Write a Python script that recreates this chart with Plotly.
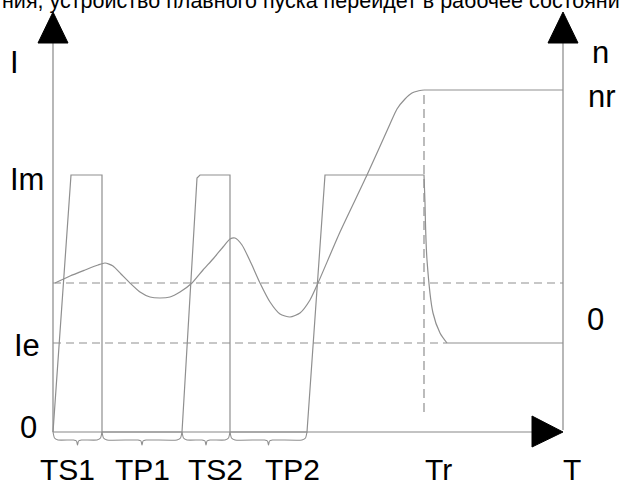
import plotly.graph_objects as go

# ---- schematic data (time axis units, value units; origin at axes crossing) ----
IM = 257          # current limit level Im
IE = 89           # rated current level Ie
N0 = 149          # speed reference (dashed) level
NR = 342          # rated speed nr
TR = 371          # time Tr
T_END = 510       # right axis position

phase_edges = [0, 49, 129, 177, 254]          # TS1 | TP1 | TS2 | TP2 boundaries
phase_labels = ["TS1", "TP1", "TS2", "TP2"]
phase_label_x = [14, 89, 162, 239]

# current waveform (linear parts)
cur_t = [0, 18, 49, 49, 129, 144, 147, 177, 177, 254, 272, 371, 372]
cur_i = [0, IM, IM, 0, 0, 254, IM, IM, 0, 0, IM, IM, 229]
# current decay after Tr (smooth part)
dec_t = [372, 374, 380, 387, 394]
dec_i = [229, 172, 119, 99, IE]

# speed curve
spd_t = [2, 17, 32, 45, 52, 60, 68, 77, 87, 97, 107, 117, 127, 139, 150, 160, 170, 177,
         182, 189, 198, 207, 217, 227, 237, 247, 257, 265, 287, 314, 337, 344, 352, 359, 365, 371]
spd_n = [149, 156, 162, 167, 169, 166, 158, 149, 140, 135, 134, 135, 140, 149, 162, 173, 185, 193,
         194, 187, 169, 149, 130, 118, 115, 119, 132, 149, 200, 257, 308, 323, 333, 339, 341, NR]

GRAY = "#8f8f8f"
LW = 1.2

fig = go.Figure()

def line(x, y, dash=None, shape="linear", color=GRAY, width=LW, smoothing=None):
    ln = dict(color=color, width=width, shape=shape)
    if dash:
        ln["dash"] = dash
    if smoothing is not None:
        ln["smoothing"] = smoothing
    fig.add_trace(go.Scatter(x=x, y=y, mode="lines", line=ln,
                             hoverinfo="skip", showlegend=False))

def tri(x, y):
    fig.add_trace(go.Scatter(x=x, y=y, mode="lines", fill="toself",
                             fillcolor="black", line=dict(color="black", width=1),
                             hoverinfo="skip", showlegend=False))

# axes
line([0, 0], [0, 390], color="#888888")
line([T_END, T_END], [2, 390], color="#888888")
line([0, 480], [0, 0], color="#888888")
tri([-15, 0, 15, -15], [389, 420, 389, 389])
tri([T_END - 15, T_END, T_END + 15, T_END - 15], [389, 420, 389, 389])
tri([479, T_END, 479, 479], [16, 0, -15, 16])

# dashed reference lines
line([0, T_END], [N0, N0], dash="8px,5px")
line([0, dec_t[-1]], [IE, IE], dash="8px,5px")
line([TR, TR], [20, NR], dash="9px,5px")

# current
line(cur_t, cur_i)
line(dec_t, dec_i, shape="spline", smoothing=0.8)
line([dec_t[-1], T_END], [IE, IE])

# speed
line(spd_t, spd_n, shape="spline", smoothing=0.6)
line([TR, T_END], [NR, NR])

# braces under time axis
for a, b in zip(phase_edges[:-1], phase_edges[1:]):
    m = (a + b) / 2
    bx = [a, a + 1.5, a + 5, m - 4, m - 1, m, m + 1, m + 4, b - 5, b - 1.5, b]
    by = [0, -6, -8, -8, -9, -13, -9, -8, -8, -6, 0]
    line(bx, by, shape="spline", smoothing=0.5, width=1.1)

FONT = "Liberation Sans, Arial, sans-serif"
ann = []
def label(text, x, y, size=31, xanchor="center"):
    ann.append(dict(text=text, x=x, y=y, xref="x", yref="y", showarrow=False,
                    xanchor=xanchor, yanchor="middle", borderpad=0,
                    font=dict(family=FONT, size=size, color="black")))

for t, xx in zip(phase_labels, phase_label_x):
    label(t, xx, -37, size=30)
label("Tr", 385, -37, size=30)
label("T", 519, -37, size=30)
label("I", -39, 370)
label("Im", -26, 253)
label("Ie", -26, 87)
label("0", -25, 5)
label("n", 547, 380)
label("nr", 549, 336)
label("0", 542, 113)
label("ния, устройство плавного пуска перейдет в рабочее состояни", -52, 431.5,
      size=21.5, xanchor="left")

fig.update_layout(
    width=619, height=488, autosize=False,
    margin=dict(l=0, r=0, t=0, b=0),
    paper_bgcolor="white", plot_bgcolor="white",
    xaxis=dict(range=[-53, 566], visible=False, fixedrange=True),
    yaxis=dict(range=[-56, 432], visible=False, fixedrange=True),
    annotations=ann,
)

fig.write_html(
    "out.html",
    config={"displayModeBar": False},
    post_script="document.body.style.margin='0';document.body.style.overflow='hidden';",
)
